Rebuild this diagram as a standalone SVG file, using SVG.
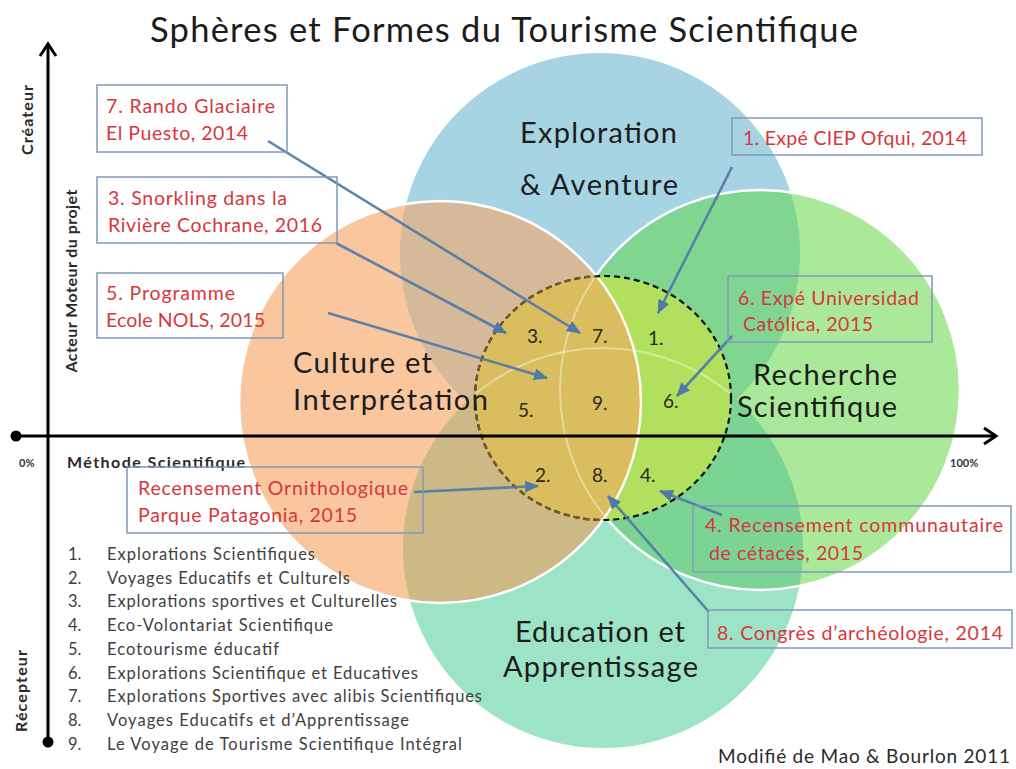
<svg xmlns="http://www.w3.org/2000/svg" width="1016" height="769" viewBox="0 0 1016 769">
<style>
text{font-family:Lato,"Open Sans","Liberation Sans",sans-serif}
.title{font-size:34.5px;fill:#1c1c1c}
.sph{font-size:29px;fill:#1d1d1d}
.num{font-size:19px;fill:#2a2a1a}
.lbl{font-size:19.5px;fill:#d7373c}
.box{fill:none;stroke:#8199bb;stroke-width:1.5}
.lst{font-size:16.5px;fill:#404040}
.ax{font-size:16px;font-weight:700;fill:#2a2a2a}
.pct{font-size:11px;font-weight:700;fill:#333}
.conn{stroke:#4f7aa8;stroke-width:2.6;fill:none;marker-end:url(#ah);stroke-opacity:.92}
.axis{stroke:#000;stroke-width:3;fill:none}
.wl{fill:none;stroke:#fff;stroke-width:2.5}
</style>
<defs>
<marker id="ah" markerUnits="userSpaceOnUse" markerWidth="14" markerHeight="12" refX="13" refY="6" orient="auto">
<path d="M0,0 L14,6 L0,12 z" fill="#4f7aa8"/>
</marker>
<clipPath id="cBlue"><circle cx="600" cy="253" r="200"/></clipPath>
<clipPath id="cTeal"><circle cx="603" cy="548" r="200"/></clipPath>
<clipPath id="cGreen"><circle cx="760" cy="390" r="200"/></clipPath>
<clipPath id="cOrange"><circle cx="440" cy="402" r="201"/></clipPath>
<clipPath id="cDash"><ellipse cx="603" cy="398" rx="128" ry="122"/></clipPath>
</defs>
<rect width="1016" height="769" fill="#fff"/>

<text class="title" x="150" y="42" textLength="708">Sphères et Formes du Tourisme Scientifique</text>

<g id="spheres">
<circle cx="600" cy="253" r="200" fill="#a6d4e3"/>
<circle cx="603" cy="548" r="200" fill="#9de3c6"/>
<circle cx="760" cy="390" r="200" fill="#abe99a"/>
<circle cx="600" cy="253" r="200" fill="#80d690" clip-path="url(#cGreen)"/>
<circle cx="603" cy="548" r="200" fill="#7cd494" clip-path="url(#cGreen)"/>
<circle cx="760" cy="390" r="200" class="wl"/>
<circle cx="440" cy="402" r="201" fill="#f9c69e"/>
<circle cx="600" cy="253" r="200" fill="#d5b999" clip-path="url(#cOrange)"/>
<circle cx="603" cy="548" r="200" fill="#cdb985" clip-path="url(#cOrange)"/>
<circle cx="440" cy="402" r="201" class="wl"/>
<ellipse cx="603" cy="398" rx="128" ry="122" fill="#b0e05e"/>
<circle cx="440" cy="402" r="201" fill="#d9bd5e" clip-path="url(#cDash)"/>
<g clip-path="url(#cDash)" fill="none" stroke="#fff" stroke-opacity=".4" stroke-width="2">
<circle cx="603" cy="548" r="200"/>
<circle cx="760" cy="390" r="200"/>
</g>
<circle cx="440" cy="402" r="201" class="wl" stroke-opacity=".9" clip-path="url(#cDash)"/>
<ellipse cx="603" cy="398" rx="128" ry="122" fill="none" stroke="#111" stroke-width="2.2" stroke-dasharray="6 4"/>
<ellipse cx="603" cy="398" rx="128" ry="122" fill="none" stroke="#7a5a30" stroke-width="2.2" stroke-dasharray="6 4" clip-path="url(#cOrange)"/>
</g>

<g id="sphere-exploration">
<text class="sph" x="520" y="143" textLength="157">Exploration</text>
<text class="sph" x="520" y="195" textLength="158">&amp; Aventure</text>
</g>
<g id="sphere-culture">
<text class="sph" x="293" y="373" textLength="139">Culture et</text>
<text class="sph" x="293" y="410" textLength="195">Interprétation</text>
</g>
<g id="sphere-recherche">
<text class="sph" x="753" y="385" textLength="144">Recherche</text>
<text class="sph" x="737" y="417" textLength="160">Scientifique</text>
</g>
<g id="sphere-education">
<text class="sph" x="515" y="642" textLength="170">Education et</text>
<text class="sph" x="503" y="677" textLength="195">Apprentissage</text>
</g>

<g id="zone-numbers">
<text class="num" x="527" y="343">3.</text>
<text class="num" x="592" y="343">7.</text>
<text class="num" x="648" y="345">1.</text>
<text class="num" x="518" y="417">5.</text>
<text class="num" x="592" y="410">9.</text>
<text class="num" x="663" y="408">6.</text>
<text class="num" x="535" y="482">2.</text>
<text class="num" x="592" y="482">8.</text>
<text class="num" x="640" y="482">4.</text>
</g>

<g id="axes">
<line class="axis" x1="16" y1="436" x2="996" y2="436"/>
<path class="axis" d="M984,428 L996,436 L984,444"/>
<line class="axis" x1="48" y1="44" x2="48" y2="742"/>
<path class="axis" d="M40,56 L48,44 L56,56"/>
<circle cx="16" cy="436" r="5.5" fill="#000"/>
<circle cx="48" cy="742" r="5.5" fill="#000"/>
<text class="ax" transform="translate(33,120) rotate(-90)" text-anchor="middle" textLength="70">Créateur</text>
<text class="ax" transform="translate(77,281) rotate(-90)" text-anchor="middle" textLength="183">Acteur Moteur du projet</text>
<text class="ax" transform="translate(27,691) rotate(-90)" text-anchor="middle" textLength="82">Récepteur</text>
<text class="pct" x="19" y="467">0%</text>
<text class="ax" x="67" y="468" textLength="178">Méthode Scientifique</text>
<text class="pct" x="950" y="467">100%</text>
</g>

<g id="connectors">
<line class="conn" x1="268" y1="141" x2="580" y2="333"/>
<line class="conn" x1="336" y1="243" x2="506" y2="333"/>
<line class="conn" x1="328" y1="313" x2="547" y2="378"/>
<line class="conn" x1="732" y1="167" x2="658" y2="313"/>
<line class="conn" x1="732" y1="336" x2="677" y2="396"/>
<line class="conn" x1="414" y1="492" x2="538" y2="486"/>
<line class="conn" x1="722" y1="515" x2="660" y2="491"/>
<line class="conn" x1="709" y1="612" x2="608" y2="496"/>
</g>

<g id="case-7">
<rect class="box" x="97" y="85" width="190" height="67"/>
<text class="lbl" x="106" y="113" textLength="169">7. Rando Glaciaire</text>
<text class="lbl" x="106" y="140" textLength="142">El Puesto, 2014</text>
</g>
<g id="case-3">
<rect class="box" x="97" y="177" width="240" height="66"/>
<text class="lbl" x="108" y="205" textLength="179">3. Snorkling dans la</text>
<text class="lbl" x="108" y="232" textLength="214">Rivière Cochrane, 2016</text>
</g>
<g id="case-5">
<rect class="box" x="97" y="273" width="186" height="65"/>
<text class="lbl" x="106" y="300" textLength="129">5. Programme</text>
<text class="lbl" x="106" y="327" textLength="159">Ecole NOLS, 2015</text>
</g>
<g id="case-1">
<rect class="box" x="732" y="118" width="250" height="37"/>
<text class="lbl" x="743" y="145" textLength="224">1. Expé CIEP Ofqui, 2014</text>
</g>
<g id="case-6">
<rect class="box" x="728" y="276" width="204" height="66"/>
<text class="lbl" x="738" y="305" textLength="181">6. Expé Universidad</text>
<text class="lbl" x="743" y="331" textLength="130">Católica, 2015</text>
</g>
<g id="case-2">
<rect class="box" x="127" y="467" width="296" height="66"/>
<text class="lbl" x="138" y="495" textLength="270">Recensement Ornithologique</text>
<text class="lbl" x="138" y="522" textLength="219">Parque Patagonia, 2015</text>
</g>
<g id="case-4">
<rect class="box" x="693" y="506" width="318" height="66"/>
<text class="lbl" x="705" y="532" textLength="298">4. Recensement communautaire</text>
<text class="lbl" x="709" y="560" textLength="154">de cétacés, 2015</text>
</g>
<g id="case-8">
<rect class="box" x="708" y="610" width="304" height="38"/>
<text class="lbl" x="717" y="640" textLength="286">8. Congrès d’archéologie, 2014</text>
</g>

<g id="legend">
<text class="lst" x="68" y="560">1.</text><text class="lst" x="107" y="560" textLength="208">Explorations Scientifiques</text>
<text class="lst" x="68" y="584">2.</text><text class="lst" x="107" y="584" textLength="243">Voyages Educatifs et Culturels</text>
<text class="lst" x="68" y="607">3.</text><text class="lst" x="107" y="607" textLength="290">Explorations sportives et Culturelles</text>
<text class="lst" x="68" y="631">4.</text><text class="lst" x="107" y="631" textLength="226">Eco-Volontariat Scientifique</text>
<text class="lst" x="68" y="655">5.</text><text class="lst" x="107" y="655" textLength="172">Ecotourisme éducatif</text>
<text class="lst" x="68" y="679">6.</text><text class="lst" x="107" y="679" textLength="311">Explorations Scientifique et Educatives</text>
<text class="lst" x="68" y="702">7.</text><text class="lst" x="107" y="702" textLength="375">Explorations Sportives avec alibis Scientifiques</text>
<text class="lst" x="68" y="726">8.</text><text class="lst" x="107" y="726" textLength="302">Voyages Educatifs et d’Apprentissage</text>
<text class="lst" x="68" y="750">9.</text><text class="lst" x="107" y="750" textLength="355">Le Voyage de Tourisme Scientifique Intégral</text>
</g>

<text x="718" y="763" font-size="19" fill="#2a2a2a" textLength="292">Modifié de Mao &amp; Bourlon 2011</text>
</svg>
